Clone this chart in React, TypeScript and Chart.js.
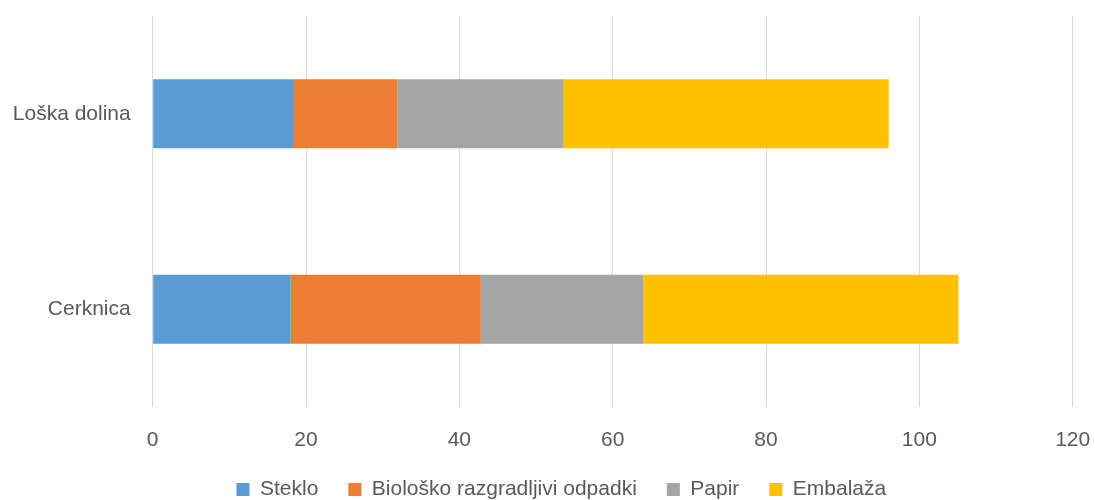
import React, { useEffect, useRef } from "react";
import { Chart, registerables } from "chart.js";

Chart.register(...registerables);

const categories = ["Loška dolina", "Cerknica"];
const seriesNames = ["Steklo", "Biološko razgradljivi odpadki", "Papir", "Embalaža"];
const steklo = [18.3, 18.0];
const bio = [13.6, 24.8];
const papir = [21.7, 21.2];
const embalaza = [42.4, 41.1];
const xTicks = [0, 20, 40, 60, 80, 100, 120];
const colors = ["#5B9BD5", "#ED7D31", "#A5A5A5", "#FFC000"];

const legendShift = {
  id: "legendShift",
  afterLayout(chart: any) {
    if (chart.legend) {
      chart.legend.left += 25;
      chart.legend.right += 25;
    }
  },
};

export default function App() {
  const ref = useRef<HTMLCanvasElement | null>(null);

  useEffect(() => {
    if (!ref.current) return;
    const font = { family: "'Liberation Sans', Arial, sans-serif", size: 21 };
    const values = [steklo, bio, papir, embalaza];
    const chart = new Chart(ref.current, {
      type: "bar",
      data: {
        labels: categories,
        datasets: seriesNames.map((name, i) => ({
          label: name,
          data: values[i],
          backgroundColor: colors[i],
          borderWidth: 0,
          barPercentage: 0.353,
          categoryPercentage: 1,
        })),
      },
      plugins: [legendShift],
      options: {
        indexAxis: "y",
        animation: false,
        responsive: false,
        maintainAspectRatio: false,
        layout: { padding: { top: 16, right: 22.3, left: 0, bottom: 0 } },
        scales: {
          x: {
            stacked: true,
            min: xTicks[0],
            max: xTicks[xTicks.length - 1],
            afterBuildTicks: (scale: any) => {
              scale.ticks = xTicks.map((v) => ({ value: v }));
            },
            afterFit: (scale: any) => {
              scale.height = 42;
              scale.paddingLeft = 0;
              scale.paddingRight = 0;
            },
            grid: { color: "#D9D9D9", lineWidth: 1, drawTicks: false },
            border: { display: false },
            ticks: { color: "#595959", font, padding: 21 },
          },
          y: {
            stacked: true,
            afterFit: (scale: any) => {
              scale.width = 152.7;
              scale.paddingTop = 0;
              scale.paddingBottom = 0;
            },
            grid: { display: false, drawTicks: false },
            border: { display: false },
            ticks: { color: "#595959", font, padding: 22 },
          },
        },
        plugins: {
          tooltip: { enabled: false },
          legend: {
            position: "bottom",
            labels: {
              color: "#595959",
              font,
              boxWidth: 13,
              boxHeight: 13,
              padding: 30,
            },
          },
        },
      },
    });
    return () => chart.destroy();
  }, []);

  return (
    <div style={{ position: "absolute", left: 0, top: 0, width: 1095, height: 500, overflow: "hidden", background: "#fff" }}>
      <canvas ref={ref} width={1095} height={510} style={{ display: "block" }} />
    </div>
  );
}
